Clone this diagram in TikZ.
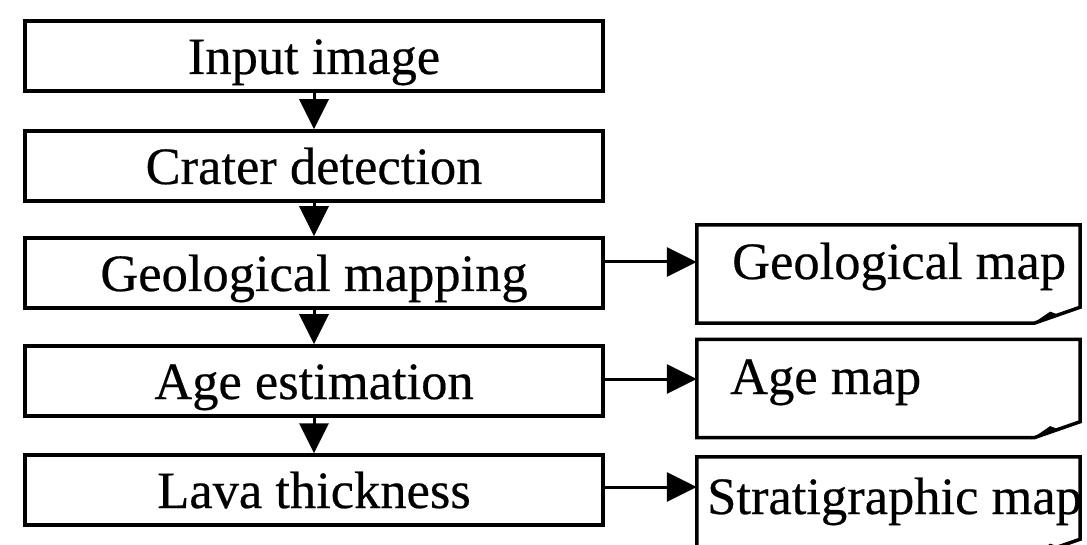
\documentclass[tikz,border=0pt]{standalone}
\usepackage{fontspec}
\setmainfont[FakeBold=0.4]{Liberation Serif}
\usetikzlibrary{arrows.meta,calc}
\tikzset{
  stepbox/.style={draw, line width=3.5pt, minimum width=578pt, minimum height=70pt,
    inner sep=0pt, text height=42pt, text depth=6pt, font=\fontsize{52.5}{60}\selectfont},
  docnode/.style={draw=none, minimum width=383pt, minimum height=98pt, inner sep=0pt},
  docline/.style={line width=3.5pt, line join=miter},
  doctext/.style={anchor=base west, inner sep=0pt, font=\fontsize{52.5}{60}\selectfont},
  arr/.style={line width=3pt, -{Triangle[length=30pt,width=29pt]}},
  curl/.style={fill=black, draw=black, line width=1pt}
}
\begin{document}
\begin{tikzpicture}[x=1pt,y=-1pt]
\useasboundingbox (0,0) rectangle (1087,545);
\clip (0,0) rectangle (1087,545);
% left process boxes
\node[stepbox] (b1) at (314,56) {Input image};
\node[stepbox] (b2) at (314,166) {Crater detection};
\node[stepbox] (b3) at (314,273) {Geological mapping};
\node[stepbox] (b4) at (314,381) {Age estimation};
\node[stepbox] (b5) at (314,490) {Lava thickness};
% vertical arrows
\draw[arr] (b1) -- (b2);
\draw[arr] (b2) -- (b3);
\draw[arr] (b3) -- (b4);
\draw[arr] (b4) -- (b5);
% document shapes
\node[docnode] (gm) at (888.5,274) {};
\node[docnode] (am) at (888.5,388.5) {};
\node[docnode] (sm) at (888.5,506) {};
\foreach \d in {gm,am,sm}{
  \draw[docline] (\d.north west) -- (\d.north east) -- ([yshift=16pt]\d.south east)
    -- ([xshift=-46pt]\d.south east) -- (\d.south west) -- cycle;
  \fill[curl] ([xshift=-46pt]\d.south east) -- ([xshift=-30pt,yshift=11pt]\d.south east)
    -- ([xshift=-22pt,yshift=8pt]\d.south east) -- cycle;
}
\node[doctext] (gmt) at (732,279) {Geological map};
\node[doctext] (amt) at (730,394) {Age map};
\node[doctext] (smt) at (707,514) {Stratigraphic map};
% horizontal arrows
\draw[arr] ([yshift=11pt]b3.east) -- ([yshift=11pt]b3.east -| gm.west);
\draw[arr] ([yshift=2pt]b4.east) -- ([yshift=2pt]b4.east -| am.west);
\draw[arr] ([yshift=3pt]b5.east) -- ([yshift=3pt]b5.east -| sm.west);
\end{tikzpicture}
\end{document}
